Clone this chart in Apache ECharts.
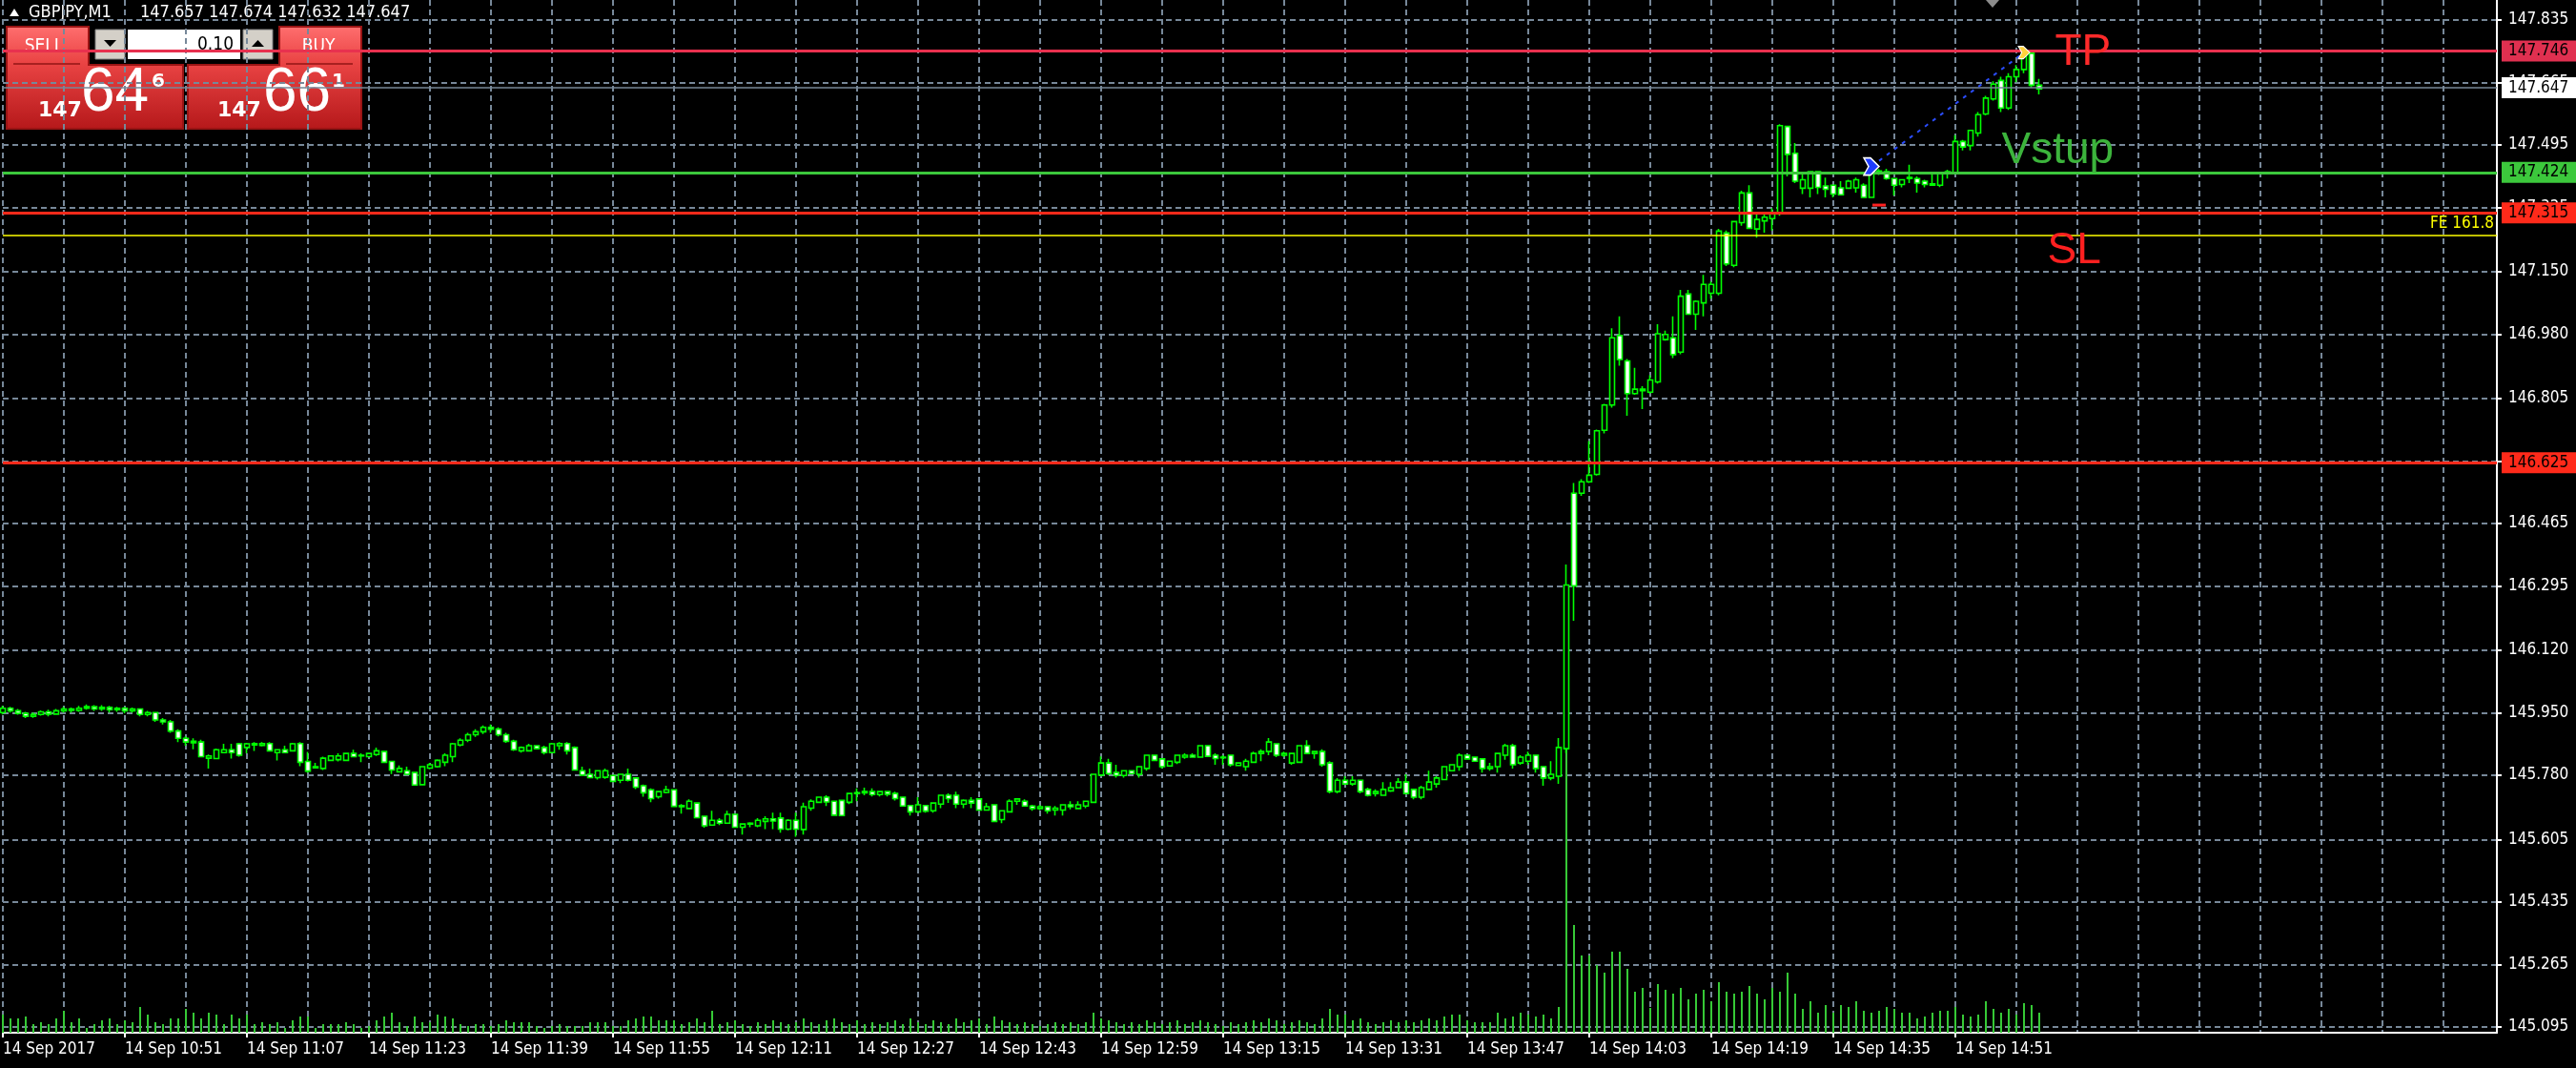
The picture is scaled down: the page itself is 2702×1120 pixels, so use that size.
<!DOCTYPE html>
<html>
<head>
<meta charset="utf-8">
<title>GBPJPY,M1</title>
<script src="https://cdn.jsdelivr.net/npm/echarts@6/dist/echarts.min.js"></script>
<style>
  html, body { margin: 0; padding: 0; background: #000; }
  #chart { width: 2702px; height: 1120px; }
</style>
</head>
<body>
<div id="chart"></div>
<script>
// GBPJPY M1, 14 Sep 2017
const startMinute = 10 * 60 + 35;   // first bar 10:35
const slotCount = 328;              // bars + empty shifted area

// [open, close, low, high]
const candles = [
  [145.950,145.962,145.945,145.968],[145.962,145.955,145.950,145.966],[145.955,145.948,145.944,145.960],[145.948,145.940,145.935,145.952],
  [145.940,145.945,145.936,145.950],[145.945,145.952,145.942,145.956],[145.952,145.946,145.940,145.958],[145.946,145.955,145.944,145.960],
  [145.955,145.960,145.950,145.966],[145.960,145.956,145.950,145.964],[145.956,145.962,145.952,145.968],[145.962,145.966,145.958,145.972],
  [145.966,145.960,145.955,145.970],[145.960,145.964,145.955,145.970],[145.964,145.958,145.950,145.968],[145.958,145.962,145.952,145.966],
  [145.962,145.955,145.948,145.966],[145.955,145.960,145.950,145.964],[145.960,145.945,145.940,145.962],[145.945,145.950,145.940,145.955],
  [145.950,145.930,145.925,145.952],[145.930,145.925,145.918,145.935],[145.925,145.900,145.895,145.930],[145.900,145.880,145.870,145.905],
  [145.880,145.870,145.860,145.885],[145.872,145.868,145.850,145.880],[145.870,145.830,145.828,145.876],[145.826,145.832,145.798,145.836],
  [145.825,145.849,145.823,145.852],[145.841,145.849,145.839,145.865],[145.849,145.841,145.825,145.865],[145.865,145.834,145.830,145.868],
  [145.855,145.865,145.839,145.868],[145.862,145.866,145.846,145.870],[145.861,145.866,145.858,145.870],[145.866,145.846,145.844,145.870],
  [145.841,145.849,145.820,145.851],[145.849,145.841,145.840,145.860],[145.846,145.865,145.844,145.868],[145.866,145.815,145.804,145.870],
  [145.817,145.791,145.787,145.843],[145.800,145.803,145.798,145.813],[145.798,145.826,145.794,145.830],[145.820,145.832,145.818,145.834],
  [145.822,145.832,145.817,145.839],[145.820,145.839,145.818,145.841],[145.839,145.830,145.829,145.849],[145.834,145.832,145.815,145.839],
  [145.830,145.839,145.828,145.841],[145.836,145.846,145.832,145.855],[145.844,145.815,145.813,145.846],[145.817,145.794,145.783,145.818],
  [145.789,145.798,145.787,145.806],[145.792,145.782,145.780,145.803],[145.787,145.753,145.751,145.789],[145.754,145.803,145.752,145.805],
  [145.799,145.808,145.796,145.813],[145.803,145.820,145.800,145.823],[145.815,145.834,145.804,145.839],[145.830,145.865,145.815,145.868],
  [145.862,145.875,145.858,145.880],[145.875,145.890,145.870,145.895],[145.890,145.898,145.884,145.905],[145.898,145.910,145.892,145.915],
  [145.910,145.905,145.895,145.918],[145.905,145.890,145.885,145.910],[145.890,145.872,145.868,145.895],[145.872,145.849,145.846,145.876],
  [145.846,145.855,145.841,145.858],[145.846,145.860,145.844,145.865],[145.860,145.852,145.850,145.862],[145.855,145.841,145.836,145.860],
  [145.841,145.865,145.839,145.868],[145.860,145.866,145.849,145.870],[145.866,145.846,145.836,145.870],[145.855,145.794,145.792,145.858],
  [145.792,145.780,145.779,145.803],[145.782,145.773,145.773,145.798],[145.773,145.792,145.768,145.794],[145.774,145.792,145.770,145.798],
  [145.779,145.763,145.761,145.781],[145.766,145.782,145.758,145.784],[145.782,145.766,145.763,145.798],[145.772,145.747,145.742,145.774],
  [145.751,145.732,145.721,145.754],[145.740,145.716,145.706,145.744],[145.721,145.735,145.716,145.737],[145.733,145.740,145.730,145.751],
  [145.740,145.695,145.693,145.742],[145.697,145.694,145.675,145.701],[145.689,145.709,145.687,145.714],[145.704,145.664,145.662,145.706],
  [145.668,145.642,145.637,145.670],[145.644,145.657,145.642,145.683],[145.657,145.649,145.644,145.663],[145.649,145.673,145.647,145.683],
  [145.673,145.638,145.636,145.675],[145.638,145.647,145.618,145.649],[145.647,145.649,145.638,145.652],[145.642,145.657,145.638,145.663],
  [145.654,145.661,145.633,145.668],[145.661,145.655,145.633,145.678],[145.663,145.633,145.623,145.678],[145.633,145.657,145.630,145.660],
  [145.657,145.633,145.612,145.678],[145.632,145.694,145.618,145.705],[145.690,145.709,145.683,145.714],[145.706,145.720,145.704,145.722],
  [145.720,145.707,145.696,145.725],[145.709,145.671,145.669,145.711],[145.711,145.670,145.668,145.712],[145.706,145.730,145.701,145.732],
  [145.730,145.732,145.709,145.744],[145.732,145.735,145.725,145.746],[145.735,145.727,145.722,145.744],[145.727,145.735,145.722,145.737],
  [145.735,145.728,145.722,145.737],[145.730,145.716,145.711,145.735],[145.720,145.696,145.694,145.722],[145.697,145.680,145.670,145.699],
  [145.680,145.699,145.677,145.720],[145.697,145.682,145.678,145.699],[145.683,145.704,145.678,145.706],[145.701,145.725,145.690,145.727],
  [145.725,145.716,145.704,145.730],[145.725,145.701,145.690,145.735],[145.701,145.711,145.690,145.714],[145.711,145.704,145.690,145.720],
  [145.715,145.685,145.683,145.717],[145.685,145.694,145.683,145.704],[145.699,145.654,145.652,145.701],[145.659,145.683,145.649,145.685],
  [145.680,145.709,145.678,145.714],[145.709,145.715,145.699,145.717],[145.709,145.696,145.694,145.714],[145.696,145.689,145.683,145.699],
  [145.689,145.694,145.685,145.699],[145.694,145.683,145.675,145.696],[145.685,145.690,145.670,145.696],[145.685,145.699,145.670,145.701],
  [145.699,145.694,145.687,145.709],[145.689,145.699,145.688,145.709],[145.696,145.709,145.690,145.710],[145.706,145.782,145.704,145.784],
  [145.780,145.813,145.779,145.831],[145.813,145.784,145.780,145.824],[145.787,145.779,145.773,145.808],[145.779,145.792,145.773,145.794],
  [145.792,145.784,145.782,145.794],[145.782,145.803,145.773,145.805],[145.798,145.834,145.792,145.836],[145.834,145.820,145.818,145.836],
  [145.824,145.803,145.798,145.826],[145.805,145.818,145.803,145.820],[145.815,145.834,145.810,145.836],[145.829,145.834,145.824,145.839],
  [145.834,145.829,145.829,145.839],[145.829,145.860,145.827,145.862],[145.860,145.831,145.829,145.862],[145.834,145.825,145.808,145.839],
  [145.827,145.829,145.808,145.834],[145.834,145.808,145.803,145.835],[145.806,145.813,145.804,145.815],[145.803,145.818,145.792,145.824],
  [145.815,145.839,145.813,145.844],[145.839,145.844,145.818,145.850],[145.844,145.870,145.834,145.881],[145.865,145.834,145.829,145.867],
  [145.834,145.839,145.829,145.844],[145.813,145.839,145.808,145.841],[145.815,145.860,145.813,145.862],[145.860,145.839,145.838,145.875],
  [145.839,145.844,145.824,145.846],[145.844,145.808,145.803,145.850],[145.813,145.735,145.730,145.818],[145.735,145.766,145.730,145.772],
  [145.766,145.756,145.756,145.777],[145.756,145.766,145.751,145.777],[145.766,145.735,145.730,145.768],[145.741,145.725,145.722,145.746],
  [145.730,145.735,145.722,145.741],[145.725,145.741,145.724,145.761],[145.737,145.746,145.734,145.761],[145.746,145.761,145.745,145.772],
  [145.761,145.730,145.729,145.782],[145.741,145.720,145.714,145.743],[145.720,145.746,145.714,145.751],[145.741,145.761,145.740,145.792],
  [145.756,145.772,145.746,145.777],[145.768,145.803,145.766,145.805],[145.792,145.808,145.790,145.810],[145.803,145.834,145.792,145.839],
  [145.834,145.824,145.822,145.836],[145.829,145.818,145.816,145.831],[145.824,145.798,145.787,145.826],[145.798,145.803,145.792,145.813],
  [145.803,145.839,145.787,145.841],[145.834,145.860,145.822,145.865],[145.860,145.808,145.798,145.865],[145.813,145.829,145.808,145.834],
  [145.818,145.834,145.808,145.844],[145.834,145.798,145.787,145.836],[145.803,145.772,145.751,145.805],[145.772,145.782,145.766,145.818],
  [145.777,145.855,145.756,145.881],[145.852,146.297,145.840,146.353],[146.547,146.295,146.200,146.575],[146.547,146.578,146.540,146.585],
  [146.578,146.596,146.575,146.689],[146.598,146.717,146.595,146.720],[146.718,146.787,146.710,146.790],[146.787,146.970,146.780,146.996],
  [146.976,146.911,146.894,147.028],[146.907,146.818,146.758,146.912],[146.818,146.830,146.815,146.888],[146.830,146.826,146.776,146.838],
  [146.822,146.855,146.818,146.868],[146.850,146.981,146.845,147.007],[146.965,146.979,146.962,146.989],[146.970,146.924,146.915,147.028],
  [146.931,147.083,146.925,147.100],[147.089,147.034,147.032,147.100],[147.034,147.069,146.991,147.072],[147.065,147.115,147.028,147.141],
  [147.091,147.115,147.076,147.123],[147.091,147.260,147.085,147.266],[147.255,147.171,147.165,147.262],[147.167,147.286,147.162,147.288],
  [147.283,147.364,147.275,147.370],[147.364,147.268,147.266,147.385],[147.266,147.292,147.242,147.311],[147.288,147.298,147.256,147.311],
  [147.294,147.311,147.262,147.322],[147.307,147.547,147.302,147.551],[147.545,147.469,147.409,147.547],[147.472,147.396,147.391,147.500],
  [147.377,147.400,147.361,147.422],[147.377,147.422,147.352,147.424],[147.422,147.379,147.361,147.424],[147.383,147.374,147.352,147.406],
  [147.385,147.361,147.352,147.387],[147.378,147.359,147.357,147.396],[147.377,147.396,147.375,147.400],[147.378,147.400,147.365,147.406],
  [147.385,147.352,147.350,147.390],[147.352,147.422,147.350,147.456],[147.418,147.424,147.413,147.429],[147.422,147.403,147.400,147.430],
  [147.403,147.385,147.357,147.405],[147.387,147.400,147.379,147.400],[147.403,147.406,147.391,147.441],[147.403,147.391,147.365,147.409],
  [147.396,147.387,147.379,147.400],[147.385,147.389,147.383,147.422],[147.385,147.420,147.380,147.421],[147.418,147.422,147.403,147.427],
  [147.418,147.504,147.417,147.521],[147.504,147.489,147.480,147.508],[147.493,147.534,147.480,147.536],[147.527,147.577,147.517,147.584],
  [147.579,147.622,147.575,147.628],[147.620,147.660,147.615,147.668],[147.670,147.595,147.584,147.680],[147.595,147.680,147.590,147.690],
  [147.680,147.700,147.665,147.712],[147.700,147.744,147.690,147.748],[147.744,147.657,147.650,147.750],[147.657,147.647,147.632,147.674]
];

// tick volume per bar
const volumes = [
  19,15,15,17,9,11,9,15,23,11, 15,5,9,13,15,9,13,11,27,19, 11,9,15,15,25,21,15,21,19,9,
  19,15,19,9,11,9,11,5,13,17, 17,5,9,9,9,11,9,5,7,13, 17,21,11,7,17,11,11,19,17,15,
  9,7,9,9,7,9,13,11,11,11, 7,5,7,9,7,7,7,11,11,11, 7,7,13,15,17,17,13,13,
  13,9,11,15,11,23,9,11,13,9, 7,11,9,13,11,9,11,15,11,9, 13,15,11,9,13,9,11,9,11,13,
  9,15,11,9,13,11,9,15,11,13, 15,9,17,13,11,9,11,9,7,9, 11,9,11,9,11,21,15,13,11,9,
  11,9,13,11,9,11,13,9,11,13, 11,9,7,11,9,11,13,11,15,13, 9,11,13,11,9,15,25,19,19,13,
  15,11,9,11,13,11,13,11,13,15, 13,17,19,19,13,11,
  11,11,21,15,17,21,19,17,19,15, 27,298,113,81,81,71,63,85,85,67,
  43,47,26,51,45,41,47,35,41,45, 33,53,43,41,43,49,41,35,47,43,
  63,41,25,33,21,29,21,29,27,33, 23,21,23,27,25,21,21,15,17,21,
  23,23,27,19,17,19,33,25,21,25, 19,31,29,21
];

const priceTicks = [147.835, 147.665, 147.495, 147.325, 147.150, 146.980, 146.805, 146.635,
  146.465, 146.295, 146.120, 145.950, 145.780, 145.605, 145.435, 145.265, 145.095];

// horizontal chart objects: price, line colour, label background
const levelPrices = [147.746, 147.647, 147.424, 147.315, 146.625];
const levelColors = ['#e8314f', '#778899', '#3cc83c', '#ff2a1a', '#ff2a1a'];
const levelLabelBg = ['#e03050', '#ffffff', '#3cc83c', '#ff2a1a', '#ff2a1a'];
const levelWidths = [3, 1.5, 3, 3, 3];
const fiboPrice = 147.249;

// text objects on the chart: [text, bar index, price, colour]
const chartTexts = [
  ['TP', 269, 147.746, '#ff2a2a'],
  ['Vstup', 262, 147.479, '#3cb43c'],
  ['SL', 268, 147.206, '#ff2020']
];
// trade: open bar/price, close bar/price
const tradeOpen = [245, 147.436];
const tradeClose = [265, 147.746];
const slMark = [246, 147.331];

const times = [];
for (let i = 0; i < slotCount; i++) {
  const m = startMinute + i;
  times.push(String(Math.floor(m / 60)).padStart(2, '0') + ':' + String(m % 60).padStart(2, '0'));
}

const axisFont = '"DejaVu Sans Condensed", "Liberation Sans Narrow", "DejaVu Sans", sans-serif';
const lastBar = candles.length - 1;

const chart = echarts.init(document.getElementById('chart'));

const levelMarks = levelPrices.map((p, i) => ({
  yAxis: p,
  lineStyle: { color: levelColors[i], width: levelWidths[i], type: 'solid' },
  label: {
    show: true, position: 'end', distance: 5,
    formatter: p.toFixed(3),
    backgroundColor: levelLabelBg[i], color: '#000',
    padding: [3, 9, 2, 7], fontFamily: axisFont, fontSize: 17
  }
}));
levelMarks.push({
  yAxis: fiboPrice,
  lineStyle: { color: '#ffff00', width: 1.5, type: 'solid' },
  label: { show: true, position: 'insideEndTop', distance: 3, formatter: 'FE 161.8',
    color: '#ffff00', fontFamily: axisFont, fontSize: 17 }
});

const gradRed = () => new echarts.graphic.LinearGradient(0, 0, 0, 1, [
  { offset: 0, color: '#ff6f6f' }, { offset: 0.35, color: '#ea4444' }, { offset: 1, color: '#b5181a' }
]);

const panelGraphic = [
  // title
  { type: 'polygon', shape: { points: [[10, 17], [20, 17], [15, 9]] }, style: { fill: '#fff' } },
  { type: 'text', x: 30, y: 13, style: { text: 'GBPJPY,M1', fill: '#fff', font: '18px ' + axisFont, verticalAlign: 'middle' } },
  { type: 'text', x: 147, y: 13, style: { text: '147.657 147.674 147.632 147.647', fill: '#fff', font: '18px ' + axisFont, verticalAlign: 'middle' } },
  // SELL
  { type: 'polygon', shape: { points: [[7, 28], [93, 28], [93, 68], [192, 68], [192, 135], [7, 135]] },
    style: { fill: gradRed(), stroke: '#9a1414', lineWidth: 2 } },
  { type: 'line', shape: { x1: 14, y1: 67, x2: 84, y2: 67 }, style: { stroke: '#a82020', lineWidth: 2 } },
  { type: 'text', x: 46, y: 49, style: { text: 'SELL', fill: '#fff', font: '19px ' + axisFont, align: 'center', verticalAlign: 'middle' } },
  { type: 'text', x: 40, y: 127, style: { text: '147', fill: '#fff', font: 'bold 22px "DejaVu Sans"', verticalAlign: 'bottom' } },
  { type: 'text', x: 85, y: 130, style: { text: '64', fill: '#fff', font: '64px "Liberation Sans"', verticalAlign: 'bottom' } },
  { type: 'text', x: 159, y: 76, style: { text: '6', fill: '#fff', font: 'bold 20px "DejaVu Sans"', verticalAlign: 'top' } },
  // BUY
  { type: 'polygon', shape: { points: [[293, 28], [379, 28], [379, 135], [197, 135], [197, 68], [293, 68]] },
    style: { fill: gradRed(), stroke: '#9a1414', lineWidth: 2 } },
  { type: 'line', shape: { x1: 300, y1: 67, x2: 370, y2: 67 }, style: { stroke: '#a82020', lineWidth: 2 } },
  { type: 'text', x: 334, y: 49, style: { text: 'BUY', fill: '#fff', font: '19px ' + axisFont, align: 'center', verticalAlign: 'middle' } },
  { type: 'text', x: 228, y: 127, style: { text: '147', fill: '#fff', font: 'bold 22px "DejaVu Sans"', verticalAlign: 'bottom' } },
  { type: 'text', x: 276, y: 130, style: { text: '66', fill: '#fff', font: '64px "Liberation Sans"', verticalAlign: 'bottom' } },
  { type: 'text', x: 348, y: 76, style: { text: '1', fill: '#fff', font: 'bold 20px "DejaVu Sans"', verticalAlign: 'top' } },
  // lot size controls
  { type: 'rect', shape: { x: 100, y: 31, width: 31, height: 31 }, style: { fill: '#d4d0c8', stroke: '#808080', lineWidth: 1 } },
  { type: 'polygon', shape: { points: [[109, 42], [122, 42], [115.5, 49]] }, style: { fill: '#000' } },
  { type: 'rect', shape: { x: 134, y: 31, width: 118, height: 31 }, style: { fill: '#fff' } },
  { type: 'text', x: 245, y: 47, style: { text: '0.10', fill: '#000', font: '19px ' + axisFont, align: 'right', verticalAlign: 'middle' } },
  { type: 'rect', shape: { x: 255, y: 31, width: 31, height: 31 }, style: { fill: '#d4d0c8', stroke: '#808080', lineWidth: 1 } },
  { type: 'polygon', shape: { points: [[264, 49], [277, 49], [270.5, 42]] }, style: { fill: '#000' } },
  // chart shift marker
  { type: 'polygon', shape: { points: [[2083, 0], [2097, 0], [2090, 8]] }, style: { fill: '#8c8c8c' } }
];

const option = {
  backgroundColor: '#000',
  animation: false,
  grid: { left: 1, right: 83, top: 0, bottom: 37 },
  xAxis: {
    type: 'category',
    data: times,
    boundaryGap: false,
    axisLine: { show: true, lineStyle: { color: '#fff', width: 2 } },
    axisTick: { show: true, length: 5, interval: i => i % 16 === 0 && i <= lastBar, lineStyle: { color: '#fff', width: 2 } },
    axisLabel: {
      color: '#fff', fontFamily: axisFont, fontSize: 17, margin: 9, align: 'left',
      interval: i => i % 16 === 0 && i <= lastBar,
      formatter: (v, i) => (i === 0 ? '14 Sep 2017' : '14 Sep ' + v)
    },
    splitLine: { show: true, interval: i => i % 8 === 0, lineStyle: { color: '#778899', width: 2, type: [6, 4] } }
  },
  yAxis: [{
    type: 'value',
    position: 'right',
    min: 145.079,
    max: 147.889,
    axisLine: { show: true, lineStyle: { color: '#fff', width: 2 } },
    axisTick: { show: true, length: 5, customValues: priceTicks, lineStyle: { color: '#fff', width: 2 } },
    axisLabel: { color: '#fff', fontFamily: axisFont, fontSize: 17, margin: 12, customValues: priceTicks, formatter: v => v.toFixed(3) },
    splitLine: { show: true, lineStyle: { color: '#778899', width: 2, type: [6, 4] } }
  }, {
    type: 'value', min: 0, max: 1083, show: false
  }],
  graphic: panelGraphic,
  series: [{
    name: 'Volumes',
    type: 'bar',
    yAxisIndex: 1,
    data: volumes,
    barWidth: 2,
    itemStyle: { color: '#36c936' },
    z: 1
  }, {
    name: 'GBPJPY',
    type: 'candlestick',
    data: candles,
    barWidth: 6,
    z: 3,
    itemStyle: {
      color: '#000000', color0: '#ffffff',
      borderColor: '#00ff00', borderColor0: '#00ff00', borderColorDoji: '#00ff00',
      borderWidth: 1.6
    },
    markLine: {
      silent: true, symbol: ['none', 'none'], animation: false,
      data: levelMarks.concat([[
        { coord: [times[tradeOpen[0]], tradeOpen[1]] },
        { coord: [times[tradeClose[0]], tradeClose[1]], lineStyle: { color: '#2b4dff', width: 2, type: [4, 6] }, label: { show: false } }
      ]])
    },
    markPoint: {
      silent: true, animation: false,
      data: chartTexts.map(t => ({
        coord: [times[t[1]], t[2]], symbol: 'circle', symbolSize: 1,
        itemStyle: { color: 'rgba(0,0,0,0)' },
        label: { show: true, position: 'right', distance: 0, formatter: t[0], color: t[3], fontSize: 46, fontFamily: '"Liberation Sans", Arial, sans-serif' }
      })).concat([
        { coord: [times[tradeOpen[0]], tradeOpen[1]], symbol: 'path://M0,0 L7,0 L16,8 L7,16 L0,16 L5,8 Z', symbolSize: [16, 18],
          itemStyle: { color: '#1f3cff', borderColor: '#ffffff', borderWidth: 1.5 }, label: { show: false } },
        { coord: [times[slMark[0]], slMark[1]], symbol: 'rect', symbolSize: [14, 3],
          itemStyle: { color: '#ff2020' }, label: { show: false } },
        { coord: [times[tradeClose[0]], tradeClose[1]], symbol: 'path://M0,0 L7,0 L16,8 L7,16 L0,16 L5,8 Z', symbolSize: [12, 13],
          itemStyle: { color: '#ffd23c', borderColor: '#ffffff', borderWidth: 1 }, label: { show: false } }
      ])
    }
  }]
};

chart.setOption(option);
</script>
</body>
</html>
